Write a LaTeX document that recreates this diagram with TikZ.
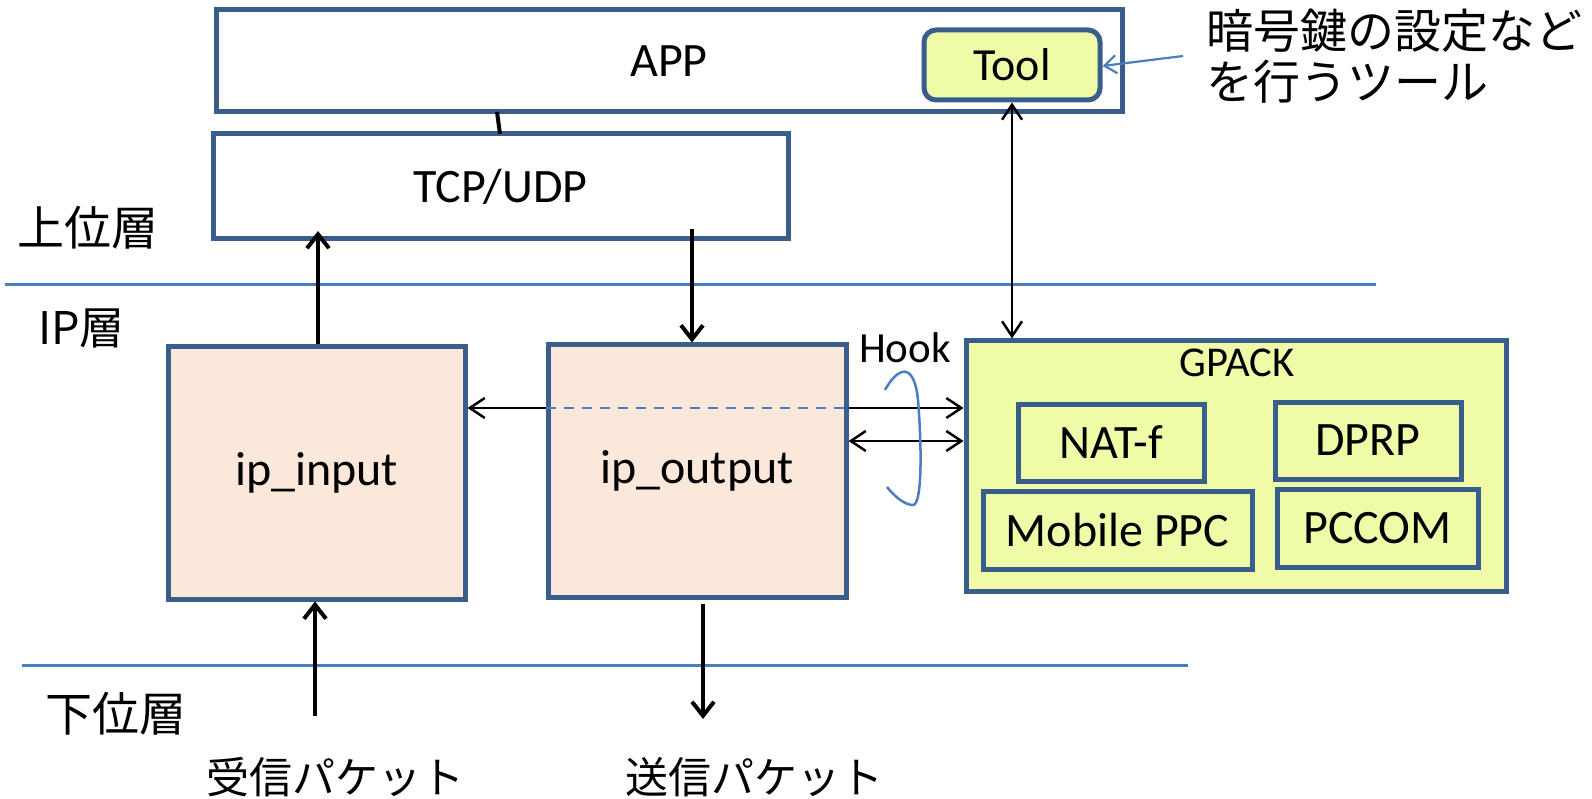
\documentclass[tikz,border=0pt]{standalone}
\usepackage{fontspec}
\setmainfont{Carlito}
\newfontfamily\jp{Noto Sans CJK JP}
\usepackage{tikz}
\usetikzlibrary{arrows.meta,calc}
\definecolor{boxblue}{RGB}{58,94,140}
\definecolor{lineblue}{RGB}{74,126,190}
\definecolor{peach}{RGB}{252,232,218}
\definecolor{lime}{RGB}{240,251,168}

\begin{document}
\begin{tikzpicture}[x=1pt,y=-1pt,
  blk/.style={draw=boxblue,line width=5pt,fill=white,inner sep=0pt,
    font=\fontsize{48}{52}\selectfont},
  ipbox/.style={blk,fill=peach},
  gbox/.style={blk,fill=lime},
  jptext/.style={font=\jp\fontsize{47}{52}\selectfont,inner sep=0pt},
  arr/.style={-{Straight Barb[length=14pt,width=22pt]},line width=4pt},
  harr/.style={-{Straight Barb[length=15pt,width=20pt]},line width=2.5pt},
  thinarr/.style={{Straight Barb[length=15pt,width=20pt]}-{Straight Barb[length=15pt,width=20pt]},line width=2.5pt},
  sep/.style={draw=lineblue,line width=3pt}]
\useasboundingbox (0,0) rectangle (1592,799);

\node[blk,minimum width=906pt,minimum height=102pt] (app) at (669,61) {APP};
\node[gbox,rounded corners=12pt,minimum width=176pt,minimum height=70pt,
  font=\fontsize{46}{50}\selectfont] (tool) at (1012,65) {Tool};
\node[blk,minimum width=575pt,minimum height=105pt] (tcp) at (500.5,186.5) {TCP/UDP};

\node[ipbox,minimum width=297pt,minimum height=252pt] (ipin) at (316.5,473) {ip\_input};
\node[ipbox,minimum width=298pt,minimum height=252pt] (ipout) at (697,471) {ip\_output};

\node[gbox,minimum width=540pt,minimum height=250pt] (gpack) at (1236,466) {};
\node[inner sep=0pt,font=\fontsize{42.5}{46}\selectfont] (gpacklbl) at (1237,363) {GPACK};
\node[gbox,minimum width=186pt,minimum height=77pt] (natf) at (1111,442.5) {NAT-f};
\node[gbox,minimum width=186pt,minimum height=77pt] (dprp) at (1368,440.5) {DPRP};
\node[gbox,minimum width=269pt,minimum height=78pt] (mppc) at (1117.5,530) {Mobile PPC};
\node[gbox,minimum width=201pt,minimum height=78pt] (pccom) at (1377.5,528) {PCCOM};

\node[anchor=west,align=left,inner sep=0pt,font=\jp\fontsize{47}{51}\selectfont] (note) at (1206,56)
  {暗号鍵の設定など\\を行うツール};
\node[inner sep=0pt,font=\fontsize{43}{47}\selectfont] (hook) at (905,348) {Hook};

\node[jptext,anchor=west] (upper) at (17,228) {上位層};
\node[jptext,anchor=west] (iplayer) at (38,328) {\fontsize{45}{49}\selectfont IP層};
\node[jptext,anchor=west] (lower) at (45,714) {下位層};
\node[jptext,font=\jp\fontsize{43}{48}\selectfont] (recv) at (335,777) {受信パケット};
\node[jptext,font=\jp\fontsize{43}{48}\selectfont] (send) at (754,777) {送信パケット};

\coordinate (recvtop) at (315,716);
\coordinate (sendtop) at (703,719);

% layer borders
\draw[sep] (5,285) -- (1376,285);
\draw[sep] (22,665) -- (1188,665);

\draw[line width=4pt] (497,112) -- (500,134);
\draw[arr] (ipin.north -| 318,0) -- (318,231);
\draw[arr] (692,229) -- (ipout.north -| 692,0);
\draw[thinarr] (tool.south) -- (gpack.north -| tool.south);
\draw[arr] (recvtop) -- (recvtop |- ipin.south);
\draw[arr] (sendtop |- 0,604) -- (sendtop);

\draw[harr] (ipout.west |- 0,408) -- (ipin.east |- 0,408);
\draw[lineblue,dash pattern=on 10pt off 8pt,line width=2.5pt] (ipout.west |- 0,408) -- (ipout.east |- 0,408);
\draw[harr] (ipout.east |- 0,408) -- (gpack.west |- 0,408);
\draw[thinarr] (ipout.east |- 0,441) -- (gpack.west |- 0,441);

% hook loop
\draw[lineblue,line width=2.5pt] (885,390) .. controls (897,368) and (914,360) .. (918,400)
  .. controls (922,450) and (922,505) .. (913,505) .. controls (905,505) and (895,497) .. (887,487);

\draw[lineblue,line width=2.2pt,-{Straight Barb[length=12pt,width=18pt]}] (1183,56) -- (tool.east |- 0,66);
\end{tikzpicture}
\end{document}
